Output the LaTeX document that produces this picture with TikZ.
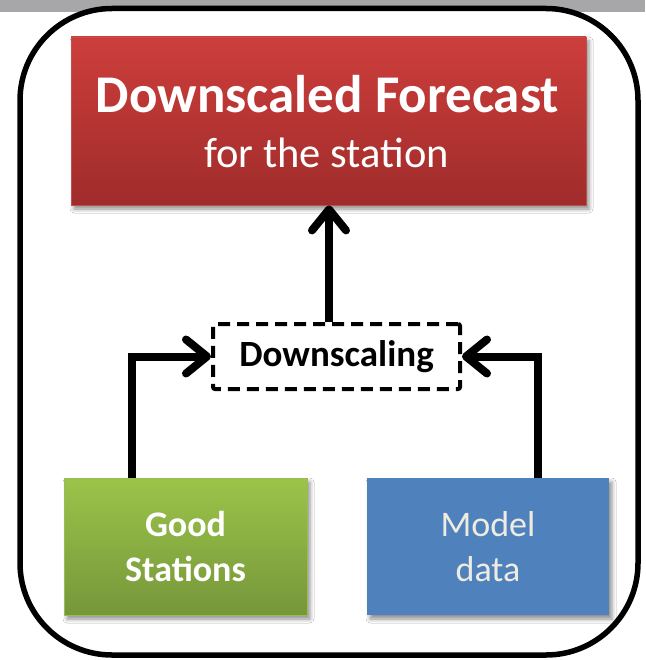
\documentclass[tikz,border=0pt]{standalone}
\usepackage{fontspec}
\setmainfont{Carlito}
\usetikzlibrary{arrows.meta,shadows.blur}

\definecolor{barGray}{HTML}{A7A7A9}
\definecolor{redTop}{HTML}{CD3E3B}
\definecolor{redBot}{HTML}{9F2C2B}
\definecolor{redEdge}{HTML}{C0504D}
\definecolor{greenTop}{HTML}{9BC44A}
\definecolor{greenBot}{HTML}{76963A}
\definecolor{greenEdge}{HTML}{9BBB59}
\definecolor{blueFill}{HTML}{4F81BD}
\definecolor{cream}{HTML}{EEECE1}

\tikzset{
  boxshadow/.style={blur shadow={shadow xshift=3pt, shadow yshift=-4pt,
      shadow blur radius=4pt, shadow opacity=45}},
  block/.style={rectangle, inner sep=0pt, boxshadow},
  flow/.style={line width=8pt, -{Straight Barb[length=21pt, width=34pt, round]}},
  lowtext/.style={align=center, font=\fontsize{36}{45}\selectfont},
  lowbold/.style={align=center, font=\fontsize{36}{45}\selectfont\bfseries},
}

\begin{document}
\begin{tikzpicture}[x=1pt, y=-1pt]
  \useasboundingbox (0,0) rectangle (645,660);

  % top strip and rounded outer frame
  \fill[barGray] (0,0) rectangle (645,12);
  \draw[line width=5.5pt, fill=white, rounded corners=92pt] (20,8.5) rectangle (638,655);

  % result box
  \node[block, minimum width=515pt, minimum height=168pt,
        top color=redTop, bottom color=redBot, draw=redEdge, line width=0.8pt]
        (fc) at (328.5,121) {};
  \node[anchor=base, text=white, font=\fontsize{53}{60}\selectfont\bfseries]
        (fct) at (327.5,113) {Downscaled Forecast};
  \node[anchor=base, text=white, font=\fontsize{42.5}{50}\selectfont]
        (fcs) at (326.5,168) {for the station};

  % method box
  \node[rectangle, inner sep=0pt, minimum width=247pt, minimum height=65pt,
        draw, line width=4pt, dash pattern=on 12pt off 7pt, rounded corners=2pt,
        fill=white, font=\fontsize{37}{43}\selectfont\bfseries]
        (ds) at (336.5,356.5) {Downscaling};

  % input boxes
  \node[block, minimum width=243pt, minimum height=137pt,
        top color=greenTop, bottom color=greenBot, draw=greenEdge, line width=0.8pt,
        text=white, lowbold]
        (gs) at (185.5,546.5) {Good\\Stations};
  \node[block, minimum width=242pt, minimum height=137pt,
        fill=blueFill, text=cream, lowtext]
        (md) at (488,546.5) {Model\\data};

  % connector columns
  \coordinate (cl) at (132,0);
  \coordinate (cm) at (329,0);
  \coordinate (cr) at (538,0);

  \draw[flow] (cm |- ds.north) -- (cm |- fc.south);
  \draw[flow] (cl |- gs.north) |- (ds.west);
  \draw[flow] (cr |- md.north) |- (ds.east);
\end{tikzpicture}
\end{document}
